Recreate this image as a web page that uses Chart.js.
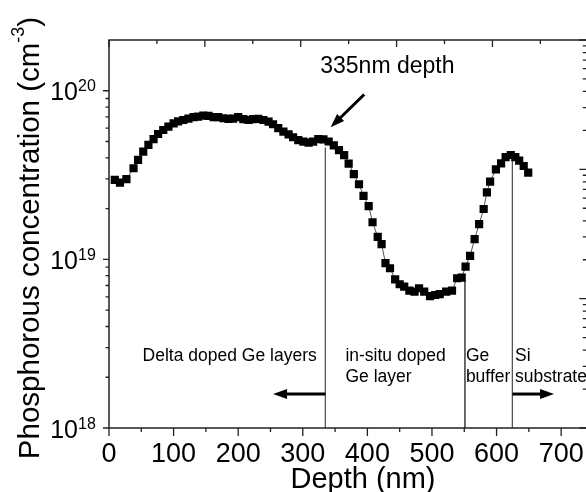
<!DOCTYPE html>
<html>
<head>
<meta charset="utf-8">
<script src="https://cdn.jsdelivr.net/npm/chart.js@4.4.1/dist/chart.umd.min.js"></script>
<style>
  html, body { margin: 0; padding: 0; background: #fff; overflow: hidden; }
  canvas { display: block; }
</style>
</head>
<body>
<canvas id="sims" width="600" height="492"></canvas>
<script>
// depth (nm) and phosphorous concentration (cm^-3)
const depth = [
  9, 17, 27, 38, 45, 53, 61, 69, 76, 84, 92, 100, 107, 115, 123, 131, 138, 146, 154, 162,
  169, 177, 185, 192, 200, 208, 216, 223, 231, 239, 247, 254, 262, 270, 278, 285, 293, 301, 309, 316,
  324, 332, 340, 348, 356, 364, 371, 379, 387, 394, 402, 408, 416, 422, 428, 435, 443, 450, 457, 465,
  473, 480, 488, 497, 505, 512, 522, 531, 539, 546, 552, 559, 566, 573, 580, 585, 590, 599, 607, 614,
  622, 629, 635, 642, 649
]
const conc = [
  2.96e19, 2.85e19, 2.99e19, 3.47e19, 3.89e19, 4.36e19, 4.77e19, 5.16e19, 5.54e19, 5.85e19,
  6.12e19, 6.41e19, 6.59e19, 6.71e19, 6.84e19, 6.97e19, 7.03e19, 7.12e19, 7.09e19, 6.97e19,
  6.97e19, 6.87e19, 6.81e19, 6.84e19, 6.97e19, 6.78e19, 6.71e19, 6.78e19, 6.81e19, 6.71e19,
  6.56e19, 6.33e19, 6.0e19, 5.72e19, 5.52e19, 5.3e19, 5.1e19, 4.99e19, 4.92e19, 4.99e19,
  5.16e19, 5.15e19, 5.0e19, 4.75e19, 4.45e19, 4.15e19, 3.7e19, 3.2e19, 2.79e19, 2.38e19,
  2.07e19, 1.66e19, 1.36e19, 1.23e19, 9.5e18, 8.86e18, 7.62e18, 7.12e18, 6.89e18, 6.52e18,
  6.43e18, 6.74e18, 6.43e18, 6.06e18, 6.15e18, 6.23e18, 6.43e18, 6.52e18, 7.73e18, 7.8e18,
  9.06e18, 1.05e19, 1.32e19, 1.62e19, 1.99e19, 2.5e19, 2.89e19, 3.42e19, 3.71e19, 4.04e19,
  4.16e19, 4.04e19, 3.85e19, 3.58e19, 3.27e19
]

// layer boundaries: depth and the concentration where the marker line starts
const boundaryDepth = [335, 551, 624.5]
const boundaryTop = [4.6e19, 7.45e18, 4.05e19]

// axis ticks
const xMajor = [0, 100, 200, 300, 400, 500, 600, 700]
const xMinor = [50, 150, 250, 350, 450, 550, 650]
const yMajor = [1e18, 1e19, 1e20]
const yExp = ['18', '19', '20']
const yMinor = [2e18, 3e18, 4e18, 5e18, 6e18, 7e18, 8e18, 9e18, 2e19, 3e19, 4e19, 5e19, 6e19, 7e19, 8e19, 9e19]
const topMajor = [0, 1, 2, 3, 4, 5]
const topMinor = [0.5, 1.5, 2.5, 3.5, 4.5]
const rightMajor = [1, 10, 100, 1000]
const rightMinor = [2, 3, 4, 5, 6, 7, 8, 9, 20, 30, 40, 50, 60, 70, 80, 90, 200, 300, 400, 500, 600, 700, 800, 900]

// region labels (depth, concentration of baseline)
const regionText = [
  { x: 52, y: 2.48e18, text: 'Delta doped Ge layers' },
  { x: 366, y: 2.48e18, text: 'in-situ doped' },
  { x: 366, y: 1.87e18, text: 'Ge layer' },
  { x: 552.5, y: 2.48e18, text: 'Ge' },
  { x: 552.5, y: 1.87e18, text: 'buffer' },
  { x: 628.5, y: 2.48e18, text: 'Si' },
  { x: 628.5, y: 1.87e18, text: 'substrate' }
]
const arrows = [
  { x1: 335, y1: 1.59e18, x2: 254, y2: 1.59e18 },
  { x1: 624.5, y1: 1.59e18, x2: 689, y2: 1.59e18 },
  { x1: 395, y1: 9.5e19, x2: 343, y2: 6.07e19 }
]
const depthNote = { x: 327, y: 1.28e20, text: '335nm depth' }

const FONT = '"Liberation Sans", Arial, sans-serif'

function drawArrow(ctx, x1, y1, x2, y2) {
  const ang = Math.atan2(y2 - y1, x2 - x1)
  const head = 14, half = 5
  ctx.beginPath()
  ctx.moveTo(x1, y1)
  ctx.lineTo(x2 - Math.cos(ang) * head * 0.8, y2 - Math.sin(ang) * head * 0.8)
  ctx.stroke()
  ctx.beginPath()
  ctx.moveTo(x2, y2)
  ctx.lineTo(x2 - Math.cos(ang) * head - Math.sin(ang) * half, y2 - Math.sin(ang) * head + Math.cos(ang) * half)
  ctx.lineTo(x2 - Math.cos(ang) * head + Math.sin(ang) * half, y2 - Math.sin(ang) * head - Math.cos(ang) * half)
  ctx.closePath()
  ctx.fill()
}

const frame = {
  id: 'frame',
  afterDraw(chart) {
    const { ctx, chartArea: a } = chart
    const { x, y, x2, y2 } = chart.scales
    ctx.save()
    ctx.strokeStyle = '#222'
    ctx.fillStyle = '#000'
    ctx.lineWidth = 1.5
    ctx.strokeRect(a.left, a.top, a.right - a.left, a.bottom - a.top)

    ctx.lineWidth = 1.3
    ctx.beginPath()
    xMajor.forEach(v => { const p = x.getPixelForValue(v); ctx.moveTo(p, a.bottom); ctx.lineTo(p, a.bottom + 8) })
    xMinor.forEach(v => { const p = x.getPixelForValue(v); ctx.moveTo(p, a.bottom); ctx.lineTo(p, a.bottom + 4) })
    yMajor.forEach(v => { const p = y.getPixelForValue(v); ctx.moveTo(a.left, p); ctx.lineTo(a.left - 6, p) })
    yMinor.forEach(v => { const p = y.getPixelForValue(v); ctx.moveTo(a.left, p); ctx.lineTo(a.left - 3.5, p) })
    topMajor.forEach(v => { const p = x2.getPixelForValue(v); ctx.moveTo(p, a.top); ctx.lineTo(p, a.top + 7) })
    topMinor.forEach(v => { const p = x2.getPixelForValue(v); ctx.moveTo(p, a.top); ctx.lineTo(p, a.top + 4) })
    rightMajor.forEach(v => { const p = y2.getPixelForValue(v); ctx.moveTo(a.right, p); ctx.lineTo(a.right - 9, p) })
    rightMinor.forEach(v => { const p = y2.getPixelForValue(v); ctx.moveTo(a.right, p); ctx.lineTo(a.right - 5.5, p) })
    ctx.stroke()

    // tick labels
    ctx.textBaseline = 'alphabetic'
    ctx.font = '27px ' + FONT
    ctx.textAlign = 'center'
    xMajor.forEach(v => ctx.fillText(String(v), x.getPixelForValue(v), a.bottom + 33.5))
    yMajor.forEach((v, i) => {
      const p = y.getPixelForValue(v)
      ctx.font = '25px ' + FONT
      ctx.textAlign = 'right'
      ctx.fillText('10', 78, p + 9.5)
      ctx.font = '16px ' + FONT
      ctx.textAlign = 'left'
      ctx.fillText(yExp[i], 78, p + 0.5)
    })

    // axis titles
    ctx.font = '29px ' + FONT
    ctx.textAlign = 'center'
    ctx.fillText('Depth (nm)', 363, 487.5)

    ctx.save()
    ctx.translate(39, 238)
    ctx.rotate(-Math.PI / 2)
    ctx.textAlign = 'left'
    const main = 'Phosphorous concentration (cm'
    ctx.font = '29.5px ' + FONT
    const w1 = ctx.measureText(main).width
    const w3 = ctx.measureText(')').width
    ctx.font = '18px ' + FONT
    const w2 = ctx.measureText('-3').width
    let sx = -(w1 + w2 + w3) / 2
    ctx.font = '29.5px ' + FONT
    ctx.fillText(main, sx, 0)
    ctx.font = '18px ' + FONT
    ctx.fillText('-3', sx + w1, -15)
    ctx.font = '29.5px ' + FONT
    ctx.fillText(')', sx + w1 + w2, 0)
    ctx.restore()

    // annotations
    ctx.font = '17.5px ' + FONT
    ctx.textAlign = 'left'
    regionText.forEach(t => ctx.fillText(t.text, x.getPixelForValue(t.x), y.getPixelForValue(t.y)))
    ctx.font = '23px ' + FONT
    ctx.fillText(depthNote.text, x.getPixelForValue(depthNote.x), y.getPixelForValue(depthNote.y))
    ctx.lineWidth = 3
    ctx.strokeStyle = '#000'
    arrows.forEach(r => drawArrow(ctx, x.getPixelForValue(r.x1), y.getPixelForValue(r.y1),
      x.getPixelForValue(r.x2), y.getPixelForValue(r.y2)))
    ctx.restore()
  }
}

const boundarySets = boundaryDepth.map((d, i) => ({
  data: [{ x: d, y: boundaryTop[i] }, { x: d, y: 1e18 }],
  borderColor: '#555',
  borderWidth: 1,
  pointRadius: 0,
  order: 2
}))

new Chart(document.getElementById('sims').getContext('2d'), {
  type: 'line',
  data: {
    datasets: [{
      label: 'P',
      data: depth.map((d, i) => ({ x: d, y: conc[i] })),
      borderColor: '#555',
      borderWidth: 1,
      pointStyle: 'rect',
      pointRadius: 5.8,
      pointBorderWidth: 0,
      pointBackgroundColor: '#000',
      order: 1
    }, ...boundarySets]
  },
  options: {
    responsive: false,
    devicePixelRatio: 1,
    animation: false,
    layout: { padding: { left: 109, right: 11.7, top: 40, bottom: 64 } },
    plugins: { legend: { display: false }, tooltip: { enabled: false } },
    scales: {
      x: { type: 'linear', min: 0, max: 742, display: false },
      y: { type: 'logarithmic', min: 1e18, max: 2e20, display: false },
      x2: { type: 'linear', position: 'top', min: 0, max: 5, display: false },
      y2: { type: 'logarithmic', position: 'right', min: 1, max: 1000, display: false }
    }
  },
  plugins: [frame]
})
</script>
</body>
</html>
